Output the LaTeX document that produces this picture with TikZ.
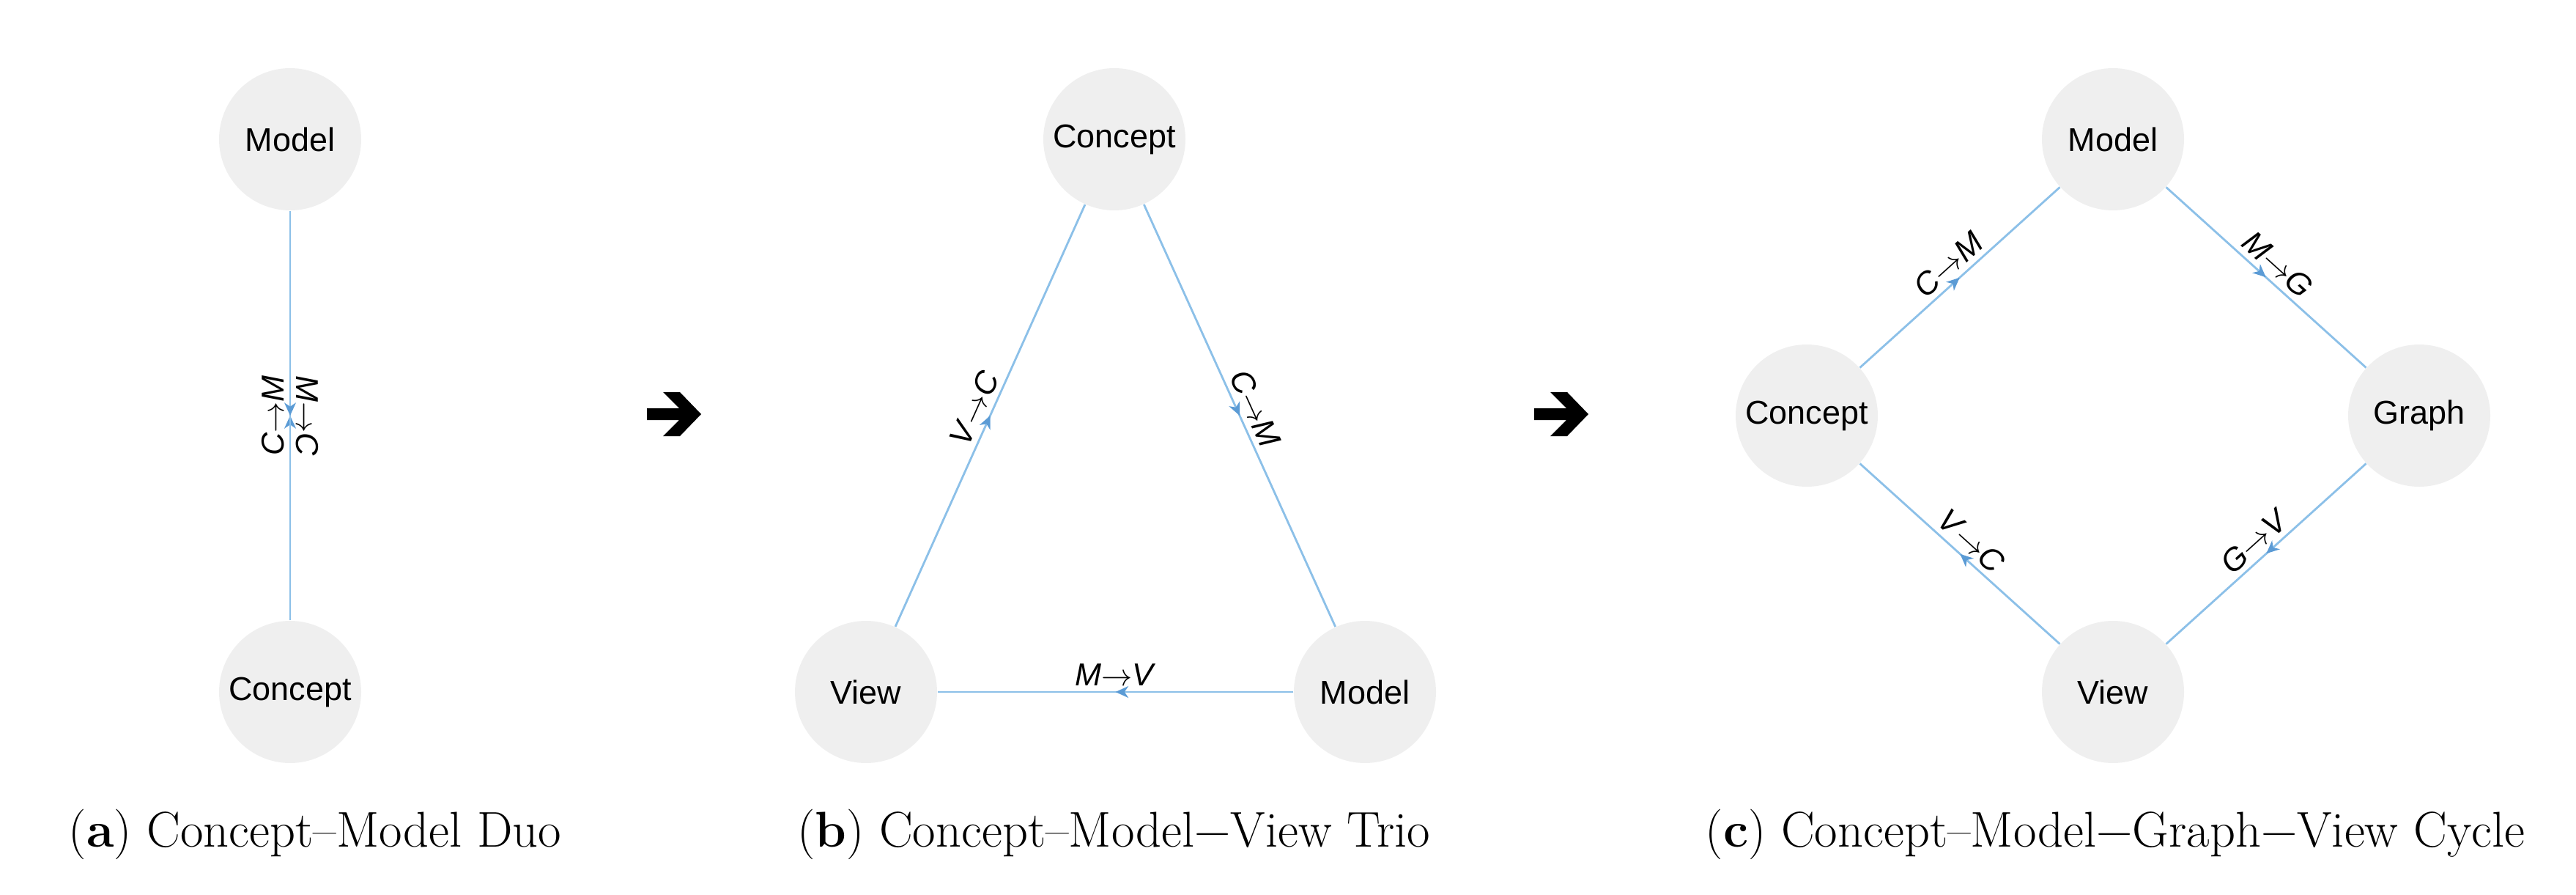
\documentclass[tikz,border=0pt]{standalone}
\usepackage{fontspec}
\usepackage{xcolor}
\usetikzlibrary{arrows.meta,decorations.markings}
\newfontfamily\graphfont{Liberation Sans}
\definecolor{nodegray}{HTML}{EFEFEF}
\definecolor{edgeblue}{HTML}{8CC0E8}
\definecolor{tipblue}{HTML}{5B9BD5}
\newcommand{\flow}[2]{\textit{#1}$\rightarrow$\textit{#2}}
\tikzset{
  entity/.style={circle, fill=nodegray, minimum size=1.94cm, inner sep=0pt,
    font=\graphfont\fontsize{12.8}{14}\selectfont},
  link/.style={draw=edgeblue, line width=0.8pt,
    postaction={decorate, decoration={markings, mark=at position 0.5 with
      {\arrow[tipblue]{Stealth[length=5pt,width=4.5pt,inset=1.5pt]}}}}},
  linklabel/.style={midway, sloped, above=1pt, inner sep=1pt,
    font=\graphfont\fontsize{12.3}{14}\selectfont},
  caption/.style={anchor=base, font=\fontsize{19.5}{23}\selectfont},
  nextarrow/.pic={
    \fill (-0.37,0.08) -- (0.07,0.08) -- (-0.15,0.30) -- (0.08,0.30)
      -- (0.37,0) -- (0.08,-0.30) -- (-0.15,-0.30) -- (0.07,-0.08)
      -- (-0.37,-0.08) -- cycle;
  }
}

\begin{document}
\begin{tikzpicture}
\useasboundingbox (0,0) rectangle (35.16,12.2);
% duo
\node[entity] (modelA) at (3.96,10.30) {Model};
\node[entity] (conceptA) at (3.96,2.76) {Concept};
\draw[link] (conceptA) -- node[linklabel] {\flow{C}{M}} (modelA);
\draw[link] (modelA) -- node[linklabel] {\flow{M}{C}} (conceptA);
\node[caption] (capA) at (4.30,0.65) {(\textbf{a}) Concept–Model Duo};
\pic at (9.20,6.55) {nextarrow};
% trio
\node[entity] (conceptB) at (15.21,10.30) {Concept};
\node[entity] (viewB) at (11.82,2.76) {View};
\node[entity] (modelB) at (18.63,2.76) {Model};
\draw[link] (viewB) -- node[linklabel] {\flow{V}{C}} (conceptB);
\draw[link] (conceptB) -- node[linklabel] {\flow{C}{M}} (modelB);
\draw[link] (modelB) -- node[linklabel] {\flow{M}{V}} (viewB);
\node[caption] (capB) at (15.20,0.65) {(\textbf{b}) Concept–Model−View Trio};
\pic at (21.31,6.55) {nextarrow};
% cycle
\node[entity] (modelC) at (28.84,10.30) {Model};
\node[entity] (conceptC) at (24.66,6.53) {Concept};
\node[entity] (graphC) at (33.02,6.53) {Graph};
\node[entity] (viewC) at (28.84,2.76) {View};
\draw[link] (conceptC) -- node[linklabel] {\flow{C}{M}} (modelC);
\draw[link] (modelC) -- node[linklabel] {\flow{M}{G}} (graphC);
\draw[link] (graphC) -- node[linklabel] {\flow{G}{V}} (viewC);
\draw[link] (viewC) -- node[linklabel] {\flow{V}{C}} (conceptC);
\node[caption] (capC) at (28.87,0.65) {(\textbf{c}) Concept–Model−Graph−View Cycle};
\end{tikzpicture}
\end{document}
